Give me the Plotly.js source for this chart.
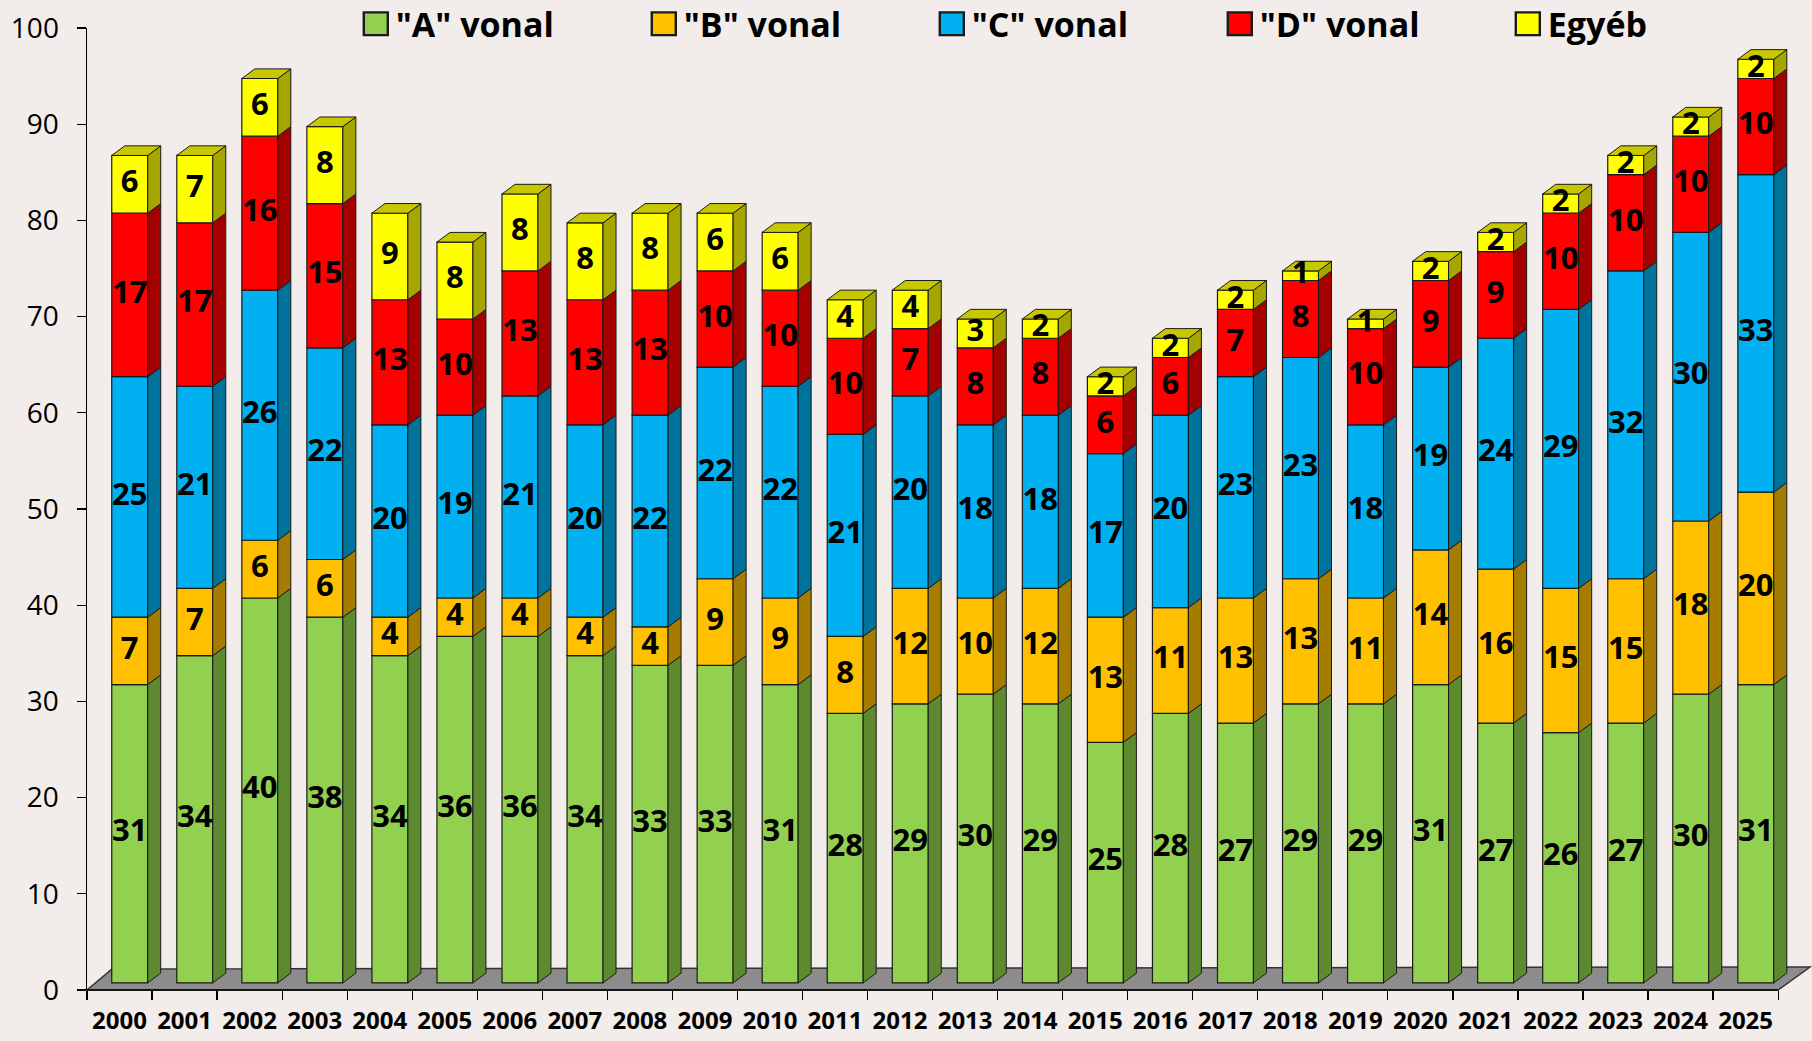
<!DOCTYPE html>
<html>
<head>
<meta charset="utf-8">
<script src="https://cdn.plot.ly/plotly-3.0.1.min.js"></script>
<style>
  html, body { margin: 0; padding: 0; background: #F2ECEA; }
  #chart { width: 1812px; height: 1041px; }
</style>
</head>
<body>
<div id="chart"></div>
<script>
// ---- data ----
const years = ['2000','2001','2002','2003','2004','2005','2006','2007','2008','2009','2010','2011','2012',
               '2013','2014','2015','2016','2017','2018','2019','2020','2021','2022','2023','2024','2025'];
const lineA = [31,34,40,38,34,36,36,34,33,33,31,28,29,30,29,25,28,27,29,29,31,27,26,27,30,31];
const lineB = [7,7,6,6,4,4,4,4,4,9,9,8,12,10,12,13,11,13,13,11,14,16,15,15,18,20];
const lineC = [25,21,26,22,20,19,21,20,22,22,22,21,20,18,18,17,20,23,23,18,19,24,29,32,30,33];
const lineD = [17,17,16,15,13,10,13,13,13,10,10,10,7,8,8,6,6,7,8,10,9,9,10,10,10,10];
const other = [6,7,6,8,9,8,8,8,8,6,6,4,4,3,2,2,2,2,1,1,2,2,2,2,2,2];
const seriesNames = ['"A" vonal', '"B" vonal', '"C" vonal', '"D" vonal', 'Egyéb'];

// ---- styling ----
const frontColors = ['#92D050', '#FFC000', '#00B0F0', '#FF0000', '#FFFF00'];
const sideColors  = ['#5E8A2F', '#A67C00', '#00739C', '#A50000', '#A6A600'];
const topColor = '#C8C800';
const LIFT = 0.75;   // bars stand on the floor, slightly above the front axis
const OFF = 0.157;   // front face centre relative to category centre
const W = 0.553;     // front face width
const DX = 0.2, DY = 1.0; // 3-D depth of a bar
const EDGE = '#1a1a1a';
const FONT = 'Open Sans, Lato, DejaVu Sans, sans-serif';

const allSeries = [lineA, lineB, lineC, lineD, other];
const idx = years.map((_, i) => i);

const barTraces = [], sideTraces = [];
const labX = [], labY = [], labT = [];
let cum = idx.map(() => LIFT);

allSeries.forEach((vals, k) => {
  const base = cum.slice();
  barTraces.push({
    type: 'bar', x: idx, y: vals, base: base, width: W, offset: OFF - W / 2,
    name: seriesNames[k],
    marker: { color: frontColors[k], line: { color: EDGE, width: 1.2 } },
    hoverinfo: 'skip'
  });
  const sx = [], sy = [];
  idx.forEach(i => {
    const xr = i + OFF + W / 2, b = base[i], t = base[i] + vals[i];
    sx.push(xr, xr + DX, xr + DX, xr, xr, null);
    sy.push(b, b + DY, t + DY, t, b, null);
    labX.push(i + OFF); labY.push(b + vals[i] / 2); labT.push(String(vals[i]));
  });
  sideTraces.push({
    type: 'scatter', mode: 'lines', x: sx, y: sy, fill: 'toself', fillcolor: sideColors[k],
    line: { color: EDGE, width: 1 }, showlegend: false, hoverinfo: 'skip'
  });
  cum = cum.map((c, i) => c + vals[i]);
});

// top faces of the stacks
const tx = [], ty = [];
idx.forEach(i => {
  const xl = i + OFF - W / 2, xr = i + OFF + W / 2, T = cum[i];
  tx.push(xl, xl + DX, xr + DX, xr, xl, null);
  ty.push(T, T + DY, T + DY, T, T, null);
});
const topTrace = {
  type: 'scatter', mode: 'lines', x: tx, y: ty, fill: 'toself', fillcolor: topColor,
  line: { color: EDGE, width: 1 }, showlegend: false, hoverinfo: 'skip'
};

const labelTrace = {
  type: 'scatter', mode: 'text', x: labX, y: labY, text: labT,
  textposition: 'middle center',
  textfont: { family: FONT, size: 31, weight: 'bold', color: '#000' },
  cliponaxis: false, showlegend: false, hoverinfo: 'skip'
};

const boundaries = idx.map(i => i - 0.5).concat([years.length - 0.5]);
const XMAX = 25.99;
const xFrac = v => (v + 0.5) / (XMAX + 0.5);

const layout = {
  width: 1812, height: 1041,
  margin: { l: 87, r: 2, t: 28, b: 51, autoexpand: false },
  paper_bgcolor: '#F2ECEA', plot_bgcolor: '#F2ECEA',
  barmode: 'overlay',
  showlegend: true,
  legend: {
    orientation: 'h', x: 0.156, xanchor: 'left', y: 1.004, yanchor: 'middle',
    entrywidth: 243, entrywidthmode: 'pixels', traceorder: 'normal',
    font: { family: FONT, size: 34, weight: 'bold', color: '#000' },
    bgcolor: 'rgba(0,0,0,0)'
  },
  xaxis: {
    type: 'linear', range: [-0.5, XMAX], fixedrange: true,
    tickmode: 'array', tickvals: idx, ticktext: years, ticks: '',
    tickfont: { family: FONT, size: 24, weight: 'bold', color: '#000' },
    showgrid: false, zeroline: false, showline: false,
    minor: { tickmode: 'array', tickvals: boundaries, ticks: 'outside', ticklen: 9, tickwidth: 1.2, tickcolor: '#000', showgrid: false },
    ticklabelstandoff: 14
  },
  yaxis: {
    range: [0, 100], fixedrange: true, tickmode: 'linear', tick0: 0, dtick: 10,
    ticks: 'outside', ticklen: 9, tickwidth: 1.2, tickcolor: '#000',
    showline: true, linecolor: '#000', linewidth: 1.5,
    showgrid: false, zeroline: false, ticklabelstandoff: 12,
    tickfont: { family: FONT, size: 28, color: '#000' }
  },
  shapes: [
    // floor
    { type: 'path', xref: 'paper', yref: 'paper', layer: 'below',
      path: 'M0,0 L' + xFrac(25.5) + ',0 L1,0.0239 L' + (25 / 1723) + ',0.0218 Z',
      fillcolor: '#8C8C8C', line: { color: '#333', width: 1.5 } },
    // front horizontal axis line
    { type: 'line', xref: 'paper', yref: 'paper', x0: 0, x1: xFrac(25.5), y0: 0, y1: 0,
      line: { color: '#000', width: 1.5 } }
  ]
};

Plotly.newPlot('chart', barTraces.concat(sideTraces, [topTrace, labelTrace]), layout,
  { displayModeBar: false, staticPlot: true }).then(gd => {
  gd.querySelectorAll('.legend .legendpoints path').forEach(p => {
    p.setAttribute('transform', (p.getAttribute('transform') || '') + ' scale(2.0,1.9)');
  });
});
</script>
</body>
</html>
